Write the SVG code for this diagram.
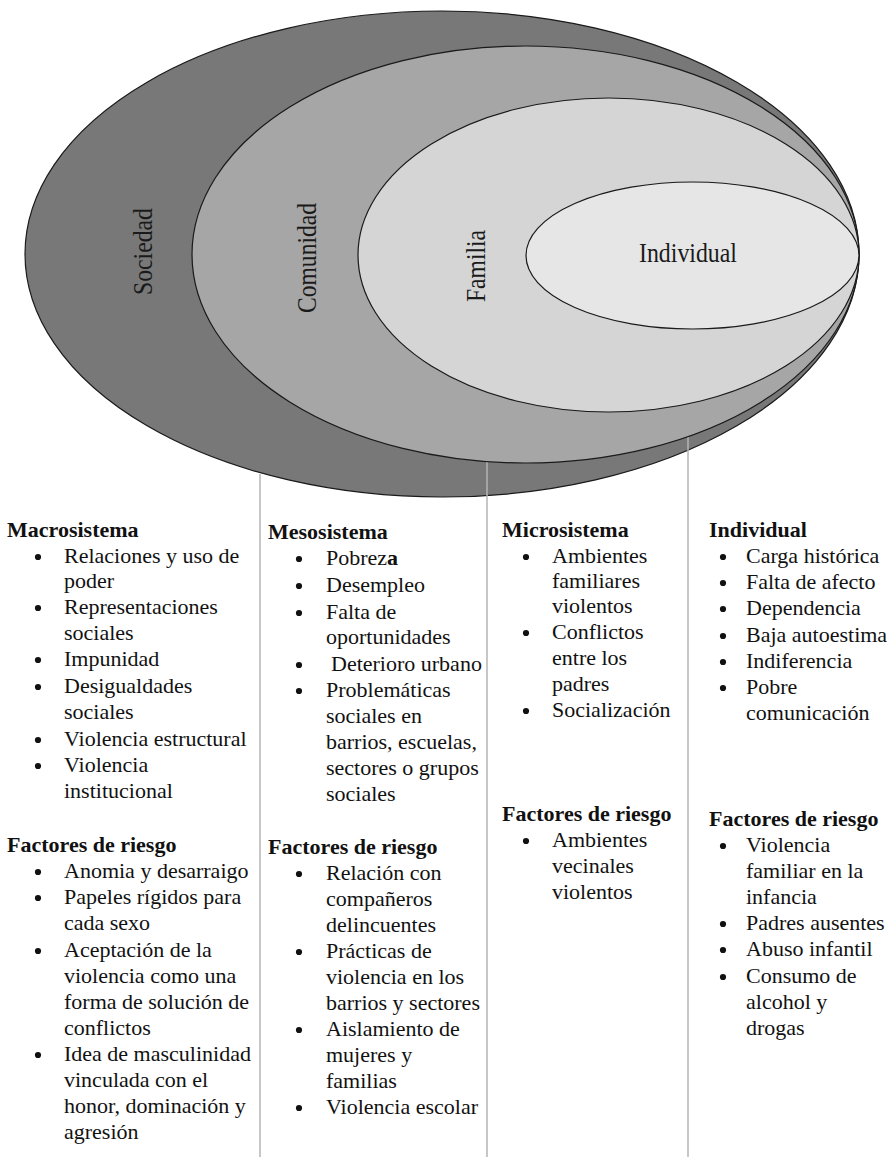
<svg xmlns="http://www.w3.org/2000/svg" width="892" height="1159" viewBox="0 0 892 1159">
<style>
.e{stroke:#1a1a1a;stroke-width:1.2}
.lbl{font-family:"Liberation Serif","Times New Roman",serif;font-size:27px;fill:#1a1a1a}
.t{font-family:"Liberation Serif","Times New Roman",serif;font-size:22px;fill:#111}
.h{font-weight:bold}
.d{fill:#111}
.sep{stroke:#b4b4b4;stroke-width:1.5}
</style>
<defs><circle id="dot" r="3.1" cx="0" cy="0"/></defs>
<rect width="892" height="1159" fill="#ffffff"/>
<g id="sociedad">
<ellipse class="e" cx="442" cy="254" rx="417" ry="243" fill="#787878"/>
</g>
<g id="connectors">
<line class="sep" x1="260" y1="474" x2="260" y2="1157"/>
<line class="sep" x1="487" y1="455" x2="487" y2="1157"/>
<line class="sep" x1="688" y1="430" x2="688" y2="1157"/>
</g>
<g id="comunidad">
<ellipse class="e" cx="525.5" cy="254.5" rx="333.5" ry="208.5" fill="#a6a6a6"/>
</g>
<g id="familia">
<ellipse class="e" cx="608.5" cy="255" rx="250.5" ry="157" fill="#d5d5d5"/>
</g>
<g id="individual">
<ellipse class="e" cx="692.5" cy="255.5" rx="166.5" ry="73.5" fill="#e6e6e6"/>
<text class="lbl" x="688" y="262" text-anchor="middle" textLength="98" lengthAdjust="spacingAndGlyphs">Individual</text>
</g>
<g id="labels">
<text class="lbl" transform="translate(152,251.5) rotate(-90)" x="0" y="0" text-anchor="middle" textLength="87" lengthAdjust="spacingAndGlyphs">Sociedad</text>
<text class="lbl" transform="translate(316,258) rotate(-90)" x="0" y="0" text-anchor="middle" textLength="110" lengthAdjust="spacingAndGlyphs">Comunidad</text>
<text class="lbl" transform="translate(485,266) rotate(-90)" x="0" y="0" text-anchor="middle" textLength="72" lengthAdjust="spacingAndGlyphs">Familia</text>
</g>
<g id="col-macrosistema">
<text class="t h" x="7" y="537">Macrosistema</text>
<use href="#dot" class="d" x="38" y="557"/><text class="t" x="64" y="563">Relaciones y uso de</text>
<text class="t" x="64" y="588">poder</text>
<use href="#dot" class="d" x="38" y="608"/><text class="t" x="64" y="614">Representaciones</text>
<text class="t" x="64" y="640">sociales</text>
<use href="#dot" class="d" x="38" y="660"/><text class="t" x="64" y="666">Impunidad</text>
<use href="#dot" class="d" x="38" y="687"/><text class="t" x="64" y="693">Desigualdades</text>
<text class="t" x="64" y="719">sociales</text>
<use href="#dot" class="d" x="38" y="740"/><text class="t" x="64" y="746">Violencia estructural</text>
<use href="#dot" class="d" x="38" y="766"/><text class="t" x="64" y="772">Violencia</text>
<text class="t" x="64" y="798">institucional</text>
<text class="t h" x="7" y="852">Factores de riesgo</text>
<use href="#dot" class="d" x="38" y="872"/><text class="t" x="64" y="878">Anomia y desarraigo</text>
<use href="#dot" class="d" x="38" y="898"/><text class="t" x="64" y="904">Papeles rígidos para</text>
<text class="t" x="64" y="930">cada sexo</text>
<use href="#dot" class="d" x="38" y="951"/><text class="t" x="64" y="957">Aceptación de la</text>
<text class="t" x="64" y="983">violencia como una</text>
<text class="t" x="64" y="1009">forma de solución de</text>
<text class="t" x="64" y="1035">conflictos</text>
<use href="#dot" class="d" x="38" y="1055"/><text class="t" x="64" y="1061">Idea de masculinidad</text>
<text class="t" x="64" y="1087">vinculada con el</text>
<text class="t" x="64" y="1113">honor, dominación y</text>
<text class="t" x="64" y="1139">agresión</text>
</g>
<g id="col-mesosistema">
<text class="t h" x="268" y="539">Mesosistema</text>
<use href="#dot" class="d" x="299" y="559"/><text class="t" x="326" y="565">Pobrez<tspan class="h">a</tspan></text>
<use href="#dot" class="d" x="299" y="586"/><text class="t" x="326" y="592">Desempleo</text>
<use href="#dot" class="d" x="299" y="613"/><text class="t" x="326" y="619">Falta de</text>
<text class="t" x="326" y="644">oportunidades</text>
<use href="#dot" class="d" x="299" y="665"/><text class="t" x="331" y="671">Deterioro urbano</text>
<use href="#dot" class="d" x="299" y="691"/><text class="t" x="326" y="697">Problemáticas</text>
<text class="t" x="326" y="723">sociales en</text>
<text class="t" x="326" y="749">barrios, escuelas,</text>
<text class="t" x="326" y="775">sectores o grupos</text>
<text class="t" x="326" y="801">sociales</text>
<text class="t h" x="268" y="854">Factores de riesgo</text>
<use href="#dot" class="d" x="299" y="874"/><text class="t" x="326" y="880">Relación con</text>
<text class="t" x="326" y="906">compañeros</text>
<text class="t" x="326" y="932">delincuentes</text>
<use href="#dot" class="d" x="299" y="952"/><text class="t" x="326" y="958">Prácticas de</text>
<text class="t" x="326" y="984">violencia en los</text>
<text class="t" x="326" y="1010">barrios y sectores</text>
<use href="#dot" class="d" x="299" y="1030"/><text class="t" x="326" y="1036">Aislamiento de</text>
<text class="t" x="326" y="1062">mujeres y</text>
<text class="t" x="326" y="1088">familias</text>
<use href="#dot" class="d" x="299" y="1108"/><text class="t" x="326" y="1114">Violencia escolar</text>
</g>
<g id="col-microsistema">
<text class="t h" x="502" y="537">Microsistema</text>
<use href="#dot" class="d" x="526" y="557"/><text class="t" x="552" y="563">Ambientes</text>
<text class="t" x="552" y="588">familiares</text>
<text class="t" x="552" y="613">violentos</text>
<use href="#dot" class="d" x="526" y="633"/><text class="t" x="552" y="639">Conflictos</text>
<text class="t" x="552" y="665">entre los</text>
<text class="t" x="552" y="691">padres</text>
<use href="#dot" class="d" x="526" y="711"/><text class="t" x="552" y="717">Socialización</text>
<text class="t h" x="502" y="821">Factores de riesgo</text>
<use href="#dot" class="d" x="526" y="841"/><text class="t" x="552" y="847">Ambientes</text>
<text class="t" x="552" y="873">vecinales</text>
<text class="t" x="552" y="899">violentos</text>
</g>
<g id="col-individual">
<text class="t h" x="709" y="537">Individual</text>
<use href="#dot" class="d" x="723" y="557"/><text class="t" x="746" y="563">Carga histórica</text>
<use href="#dot" class="d" x="723" y="583"/><text class="t" x="746" y="589">Falta de afecto</text>
<use href="#dot" class="d" x="723" y="609"/><text class="t" x="746" y="615">Dependencia</text>
<use href="#dot" class="d" x="723" y="636"/><text class="t" x="746" y="642">Baja autoestima</text>
<use href="#dot" class="d" x="723" y="662"/><text class="t" x="746" y="668">Indiferencia</text>
<use href="#dot" class="d" x="723" y="688"/><text class="t" x="746" y="694">Pobre</text>
<text class="t" x="746" y="720">comunicación</text>
<text class="t h" x="709" y="826">Factores de riesgo</text>
<use href="#dot" class="d" x="723" y="846"/><text class="t" x="746" y="852">Violencia</text>
<text class="t" x="746" y="878">familiar en la</text>
<text class="t" x="746" y="904">infancia</text>
<use href="#dot" class="d" x="723" y="924"/><text class="t" x="746" y="930">Padres ausentes</text>
<use href="#dot" class="d" x="723" y="950"/><text class="t" x="746" y="956">Abuso infantil</text>
<use href="#dot" class="d" x="723" y="977"/><text class="t" x="746" y="983">Consumo de</text>
<text class="t" x="746" y="1009">alcohol y</text>
<text class="t" x="746" y="1035">drogas</text>
</g>
</svg>
